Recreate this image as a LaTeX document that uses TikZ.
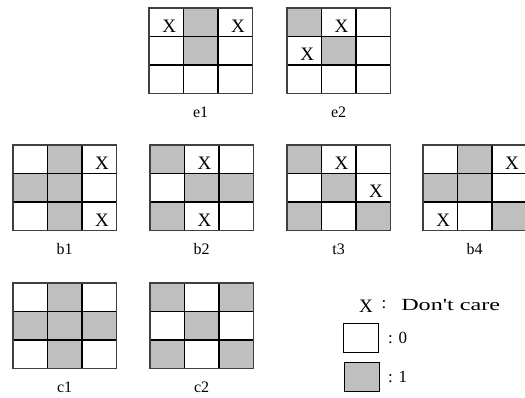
\documentclass[tikz,border=0pt]{standalone}
\usepackage{fontspec}
\setmainfont{Liberation Serif}
\newfontfamily\legfont{Liberation Serif}
\usetikzlibrary{calc}
\def\cw{34.4}
\def\ch{28.5}
\tikzset{
  cellbase/.style={minimum width=\cw pt, minimum height=\ch pt, inner sep=0pt, draw=none, outer sep=0pt},
  cellW/.style={cellbase, fill=white},
  cellG/.style={cellbase, fill=gray!50},
  xmark/.style={font=\fontsize{19}{19}\selectfont, inner sep=0pt},
  cellX/.style={cellbase, fill=white, label={[xmark, shift={(3pt,-4pt)}]center:X}},
  inner/.style={black, line width=1.5pt},
  outer/.style={black!75, line width=1.1pt},
  lab/.style={font=\fontsize{16}{16}\selectfont, inner sep=0pt},
  legtext/.style={font=\legfont\fontsize{17}{17}\selectfont, inner sep=0pt},
  legbox/.style={minimum width=35pt, minimum height=29pt, inner sep=0pt, draw=black, line width=1.5pt},
}
\newcommand\mygrid[5]{% name, x, y, label, cells
  \begin{scope}[shift={(#2,#3)}]
    \foreach \c [count=\i from 0] in {#5} {
      \pgfmathtruncatemacro\col{mod(\i,3)}
      \pgfmathtruncatemacro\row{div(\i,3)}
      \node[cell\c] (#1-\i) at ({(\col+0.5)*\cw},{(\row+0.5)*\ch}) {};
    }
  \end{scope}
  \draw[inner] (#1-0.north east) -- (#1-6.south east);
  \draw[inner] (#1-1.north east) -- (#1-7.south east);
  \draw[inner] (#1-0.south west) -- (#1-2.south east);
  \draw[inner] (#1-3.south west) -- (#1-5.south east);
  \draw[outer] (#1-0.north west) rectangle (#1-8.south east);
  \node[lab] (#1-lab) at ($(#1-7.south)+(0,19)$) {#4};
}
\begin{document}
\begin{tikzpicture}[x=1pt, y=-1pt]
\useasboundingbox[fill=white] (0,0) rectangle (525,398);
\mygrid{e1}{149}{8}{e1}{X,G,X,W,G,W,W,W,W}
\mygrid{e2}{287}{8}{e2}{G,X,W,X,G,W,W,W,W}
\mygrid{b1}{13}{145}{b1}{W,G,X,G,G,W,W,G,X}
\mygrid{b2}{150}{145}{b2}{G,X,W,W,G,G,G,X,W}
\mygrid{b3}{287}{145}{t3}{G,X,W,W,G,X,G,W,G}
\mygrid{b4}{423}{145}{b4}{W,G,X,G,G,W,X,W,G}
\mygrid{c1}{13}{283}{c1}{W,G,W,G,G,G,W,G,W}
\mygrid{c2}{150}{283}{c2}{G,W,G,W,G,W,G,W,G}
% legend
\node[xmark] (lx) at (366,306) {X};
\node[legtext] (lxc) at (384,305) {:};
\node[legtext, anchor=west, xscale=1.42] (lxt) at (401,305) {Don't care};
\node[legbox, fill=white] (l0) at (361,338) {};
\node[legtext, anchor=west] (l0t) at (388,338) {: 0};
\node[legbox, fill=gray!50] (l1) at (362,377) {};
\node[legtext, anchor=west] (l1t) at (388,377) {: 1};
\end{tikzpicture}
\end{document}
